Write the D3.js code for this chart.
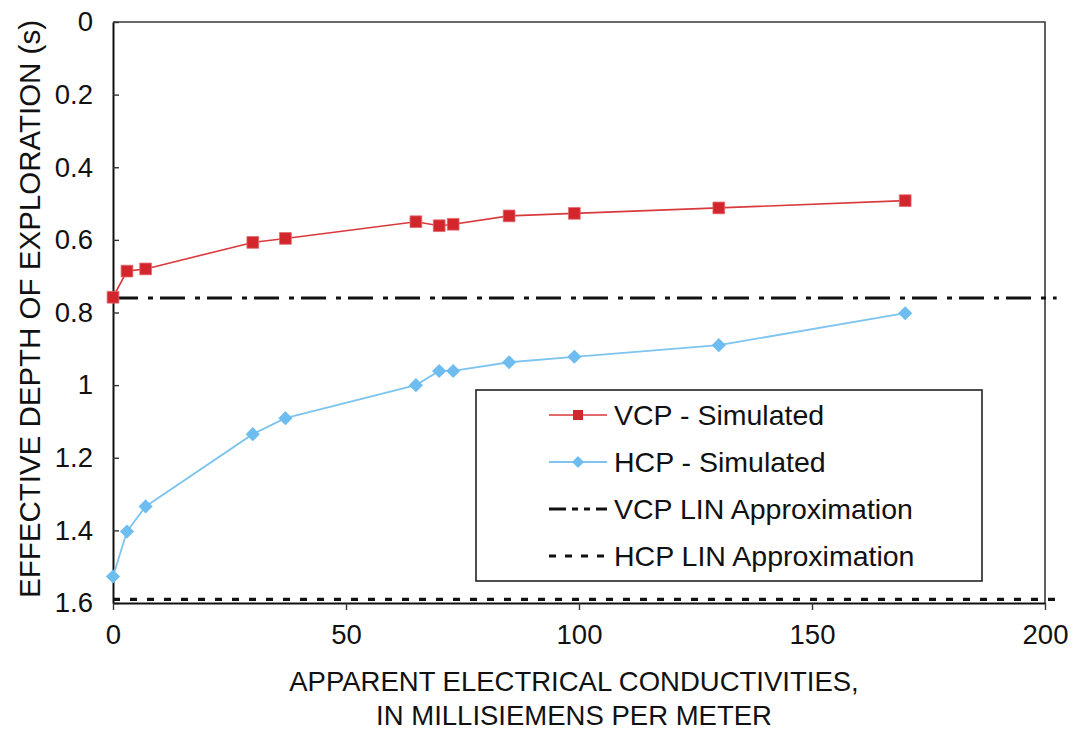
<!DOCTYPE html>
<html>
<head>
<meta charset="utf-8">
<script src="https://cdn.jsdelivr.net/npm/d3@7"></script>
<style>
  html, body { margin: 0; padding: 0; background: #fff; }
  svg { display: block; font-family: "Liberation Sans", Arial, sans-serif; }
</style>
</head>
<body>
<svg id="chart" width="1073" height="731"></svg>
<script>
// Apparent conductivity (mS/m) at each simulated point
const conductivity = [0, 3, 7, 30, 37, 65, 70, 73, 85, 99, 130, 170];
// Effective depth of exploration, vertical coplanar coils
const vcpDepth = [0.758, 0.686, 0.680, 0.607, 0.596, 0.550, 0.561, 0.557, 0.534, 0.527, 0.512, 0.492];
// Effective depth of exploration, horizontal coplanar coils
const hcpDepth = [1.527, 1.403, 1.334, 1.135, 1.091, 1.000, 0.961, 0.961, 0.937, 0.922, 0.890, 0.802];
// Low-induction-number approximations (constant depth)
const vcpLin = 0.76;
const hcpLin = 1.59;
const linExtent = [0, 202.5];

const xTicks = [0, 50, 100, 150, 200];
const yTicks = [0, 0.2, 0.4, 0.6, 0.8, 1.0, 1.2, 1.4, 1.6];

const legendLabels = ["VCP - Simulated", "HCP - Simulated", "VCP LIN Approximation", "HCP LIN Approximation"];

const RED = "#d2262c";
const RED_LINE = "#d8393d";
const BLUE = "#6dbdf0";
const BLUE_LINE = "#7ec4ee";
const FONT = 27.5;

const svg = d3.select("#chart");
const plot = { left: 113, right: 1045, top: 22, bottom: 603 };

const x = d3.scaleLinear().domain([0, 200]).range([plot.left, plot.right]);
const y = d3.scaleLinear().domain([0, 1.6]).range([plot.top, plot.bottom]);

// Frame: top and right edges
svg.append("path")
  .attr("d", `M${x(0)},${y(0)}H${x(200)}V${y(1.6)}`)
  .attr("fill", "none").attr("stroke", "#3a3a3a").attr("stroke-width", 1.6);

// Y axis, ticks pointing into the plot
const yAxis = d3.axisLeft(y).tickValues(yTicks)
  .tickSizeInner(-6).tickSizeOuter(0).tickPadding(20)
  .tickFormat(d => String(+d.toFixed(1)));
const gy = svg.append("g").attr("transform", `translate(${plot.left},0)`).call(yAxis);
gy.select(".domain").attr("stroke", "#111").attr("stroke-width", 2);
gy.selectAll(".tick line").attr("stroke", "#333").attr("stroke-width", 1.4);
gy.selectAll(".tick text").attr("font-size", FONT).attr("fill", "#111")
  .attr("font-family", "Liberation Sans, Arial, sans-serif");

// X axis, ticks pointing down
const xAxis = d3.axisBottom(x).tickValues(xTicks)
  .tickSizeInner(7).tickSizeOuter(0).tickPadding(14);
const gx = svg.append("g").attr("transform", `translate(0,${plot.bottom})`).call(xAxis);
gx.select(".domain").attr("stroke", "#111").attr("stroke-width", 2);
gx.selectAll(".tick line").attr("stroke", "#333").attr("stroke-width", 1.4);
gx.selectAll(".tick text").attr("font-size", FONT).attr("fill", "#111")
  .attr("font-family", "Liberation Sans, Arial, sans-serif");

// LIN approximation lines
const dashVcp = "25,10,5,7";
const dashHcp = "7,10";
svg.append("line")
  .attr("x1", x(linExtent[0])).attr("x2", x(linExtent[1]))
  .attr("y1", y(vcpLin)).attr("y2", y(vcpLin))
  .attr("stroke", "#111").attr("stroke-width", 3.2).attr("stroke-dasharray", dashVcp);
svg.append("line")
  .attr("x1", x(linExtent[0])).attr("x2", x(linExtent[1]))
  .attr("y1", y(hcpLin)).attr("y2", y(hcpLin))
  .attr("stroke", "#111").attr("stroke-width", 3.2).attr("stroke-dasharray", dashHcp);

// Simulated series
const vcpPts = conductivity.map((c, i) => [c, vcpDepth[i]]);
const hcpPts = conductivity.map((c, i) => [c, hcpDepth[i]]);
const line = d3.line().x(d => x(d[0])).y(d => y(d[1]));

svg.append("path").datum(vcpPts).attr("d", line)
  .attr("fill", "none").attr("stroke", RED_LINE).attr("stroke-width", 1.6);
svg.append("path").datum(hcpPts).attr("d", line)
  .attr("fill", "none").attr("stroke", BLUE_LINE).attr("stroke-width", 1.8);

// Square markers; diamonds are the same square turned 45 degrees
const square = d3.symbol().type(d3.symbolSquare).size(138);
const diamond = d3.symbol().type(d3.symbolSquare).size(100);

svg.append("g").selectAll("path").data(vcpPts).join("path")
  .attr("d", square)
  .attr("transform", d => `translate(${x(d[0])},${y(d[1])})`)
  .attr("fill", RED).attr("stroke", "#e26a6e").attr("stroke-width", 0.8);
svg.append("g").selectAll("path").data(hcpPts).join("path")
  .attr("d", diamond)
  .attr("transform", d => `translate(${x(d[0])},${y(d[1])}) rotate(45)`)
  .attr("fill", BLUE);

// Axis titles
svg.append("text")
  .attr("x", 574).attr("y", 691).attr("text-anchor", "middle")
  .attr("font-size", FONT).attr("fill", "#111")
  .text("APPARENT ELECTRICAL CONDUCTIVITIES,");
svg.append("text")
  .attr("x", 574).attr("y", 725).attr("text-anchor", "middle")
  .attr("font-size", FONT).attr("fill", "#111")
  .text("IN MILLISIEMENS PER METER");
svg.append("text")
  .attr("transform", "translate(40,309) rotate(-90)")
  .attr("text-anchor", "middle")
  .attr("font-size", 29.5).attr("fill", "#111")
  .text("EFFECTIVE DEPTH OF EXPLORATION (s)");

// Legend
const lg = { x0: 476, y0: 390, x1: 982, y1: 581, rowY: [415, 462, 509, 556], s0: 549, s1: 607, tx: 614 };
svg.append("rect")
  .attr("x", lg.x0).attr("y", lg.y0)
  .attr("width", lg.x1 - lg.x0).attr("height", lg.y1 - lg.y0)
  .attr("fill", "#fff").attr("stroke", "#222").attr("stroke-width", 1.6);

const legendStyles = [
  { stroke: RED_LINE, width: 1.6, dash: null, marker: square, size: 100, rot: 0, fill: RED },
  { stroke: BLUE_LINE, width: 1.8, dash: null, marker: diamond, size: 72, rot: 45, fill: BLUE },
  { stroke: "#111", width: 3.2, dash: "17,6,6,6,6,6", marker: null },
  { stroke: "#111", width: 3.2, dash: "7,9", marker: null }
];

legendLabels.forEach((label, i) => {
  const st = legendStyles[i];
  const ry = lg.rowY[i];
  const ln = svg.append("line")
    .attr("x1", lg.s0).attr("x2", lg.s1).attr("y1", ry).attr("y2", ry)
    .attr("stroke", st.stroke).attr("stroke-width", st.width);
  if (st.dash) ln.attr("stroke-dasharray", st.dash);
  if (st.marker) {
    svg.append("path").attr("d", st.marker.size(st.size)())
      .attr("transform", `translate(${(lg.s0 + lg.s1) / 2},${ry}) rotate(${st.rot})`)
      .attr("fill", st.fill);
  }
  svg.append("text")
    .attr("x", lg.tx).attr("y", ry).attr("dy", "0.36em")
    .attr("font-size", 28.5).attr("fill", "#111")
    .text(label);
});
</script>
</body>
</html>
